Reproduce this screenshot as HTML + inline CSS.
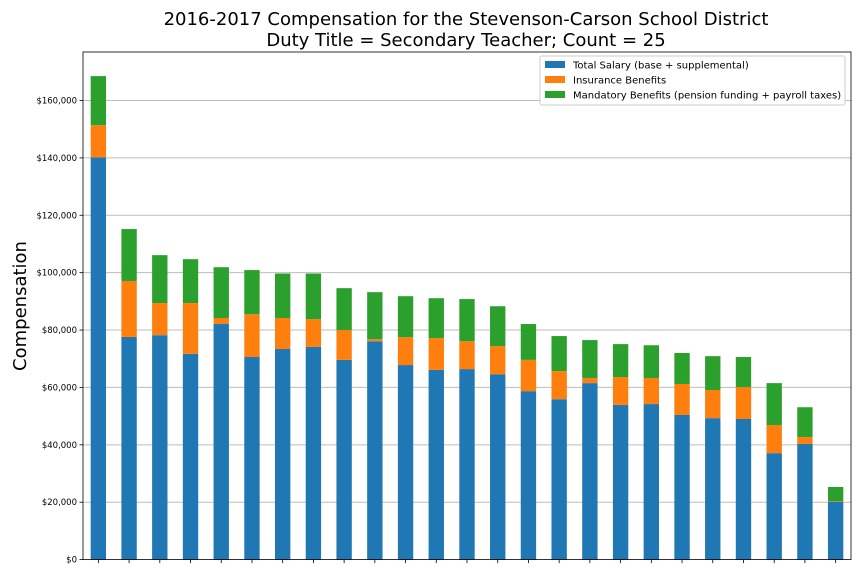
<!DOCTYPE html>
<html><head><meta charset="utf-8"><style>
html,body{margin:0;padding:0;background:#fff;}
svg{display:block;font-family:"DejaVu Sans","Liberation Sans",sans-serif;}
</style></head><body>
<svg id="chart" width="864" height="576">
<text x="466" y="25" text-anchor="middle" font-size="18">2016-2017 Compensation for the Stevenson-Carson School District</text>
<text x="466" y="46" text-anchor="middle" font-size="18">Duty Title = Secondary Teacher; Count = 25</text>
<text transform="translate(26,306) rotate(-90)" text-anchor="middle" font-size="18">Compensation</text>
<g id="grid"></g><g id="bars"></g><g id="axes"></g>
<g>
<rect x="540" y="56" width="305" height="49" fill="#fff" stroke="#ccc" rx="2"/>
<rect x="545" y="61" width="20" height="7" fill="#1f77b4"/>
<text x="573" y="68.5" font-size="10">Total Salary (base + supplemental)</text>
<rect x="545" y="76" width="20" height="7" fill="#ff7f0e"/>
<text x="573" y="83.5" font-size="10">Insurance Benefits</text>
<rect x="545" y="91" width="20" height="7" fill="#2ca02c"/>
<text x="573" y="98.5" font-size="10">Mandatory Benefits (pension funding + payroll taxes)</text>
</g>
</svg>
<script>
const salary=[140.2,77.6,78.2,71.7,82.1,70.6,73.4,74.1,69.6,76.1,67.8,66.1,66.4,64.6,58.7,55.9,61.5,53.9,54.2,50.4,49.3,49.0,37.1,40.3,20.2];
const insurance=[11.2,19.5,11.2,17.7,2.1,14.9,10.8,9.7,10.4,0.7,9.7,11.1,9.7,9.8,10.9,9.8,1.8,9.7,9.1,10.8,9.8,11.1,9.8,2.4,0.2];
const mandatory=[17.1,18.1,16.7,15.3,17.7,15.4,15.5,15.9,14.6,16.4,14.3,13.9,14.7,13.9,12.5,12.2,13.2,11.5,11.4,10.8,11.8,10.5,14.6,10.4,4.9];
const yTicks=[0,20,40,60,80,100,120,140,160];
const yTickLabels=["$0","$20,000","$40,000","$60,000","$80,000","$100,000","$120,000","$140,000","$160,000"];
const NS="http://www.w3.org/2000/svg";
const L=83,R=851,T=52,B=559.6,YMAX=176.9;
const n=salary.length;
function y(v){return B-(v/YMAX)*(B-T);}
function xc(i){return L+(i+0.5)*(R-L)/n;}
const bw=(R-L)/n*0.5;
function mk(tag,attrs,parent){const e=document.createElementNS(NS,tag);for(const k in attrs)e.setAttribute(k,attrs[k]);parent.appendChild(e);return e;}
const grid=document.getElementById('grid'),bars=document.getElementById('bars'),axes=document.getElementById('axes');
yTicks.forEach((t,i)=>{
  if(t>0){const g=mk('line',{x1:L,x2:R,y1:y(t),y2:y(t),stroke:'#bdbdbd','stroke-width':1},grid);
  
  }
  const tk=mk('line',{x1:L-3.5,x2:L,y1:y(t),y2:y(t),stroke:'#000','stroke-width':0.8},axes);
  
  
  const tx=mk('text',{x:L-6,y:y(t)+3,'text-anchor':'end','font-size':8.5},axes);
  tx.textContent=yTickLabels[i];
  
  
});
const series=[[salary,'#1f77b4','salary'],[insurance,'#ff7f0e','insurance'],[mandatory,'#2ca02c','mandatory']];
for(let i=0;i<n;i++){
  let base=0;
  series.forEach(([arr,col,nm])=>{
    const v=arr[i];
    const r=mk('rect',{x:xc(i)-bw/2,y:y(base+v),width:bw,height:y(base)-y(base+v),fill:col},bars);
    
    
    base+=v;
  });
  const tk=mk('line',{x1:xc(i),x2:xc(i),y1:B,y2:B+3.5,stroke:'#000','stroke-width':0.8},axes);
  
  
}
const fr=mk('rect',{x:L,y:T,width:R-L,height:B-T,fill:'none',stroke:'#000','stroke-width':0.8},axes);


</script>
</body></html>
